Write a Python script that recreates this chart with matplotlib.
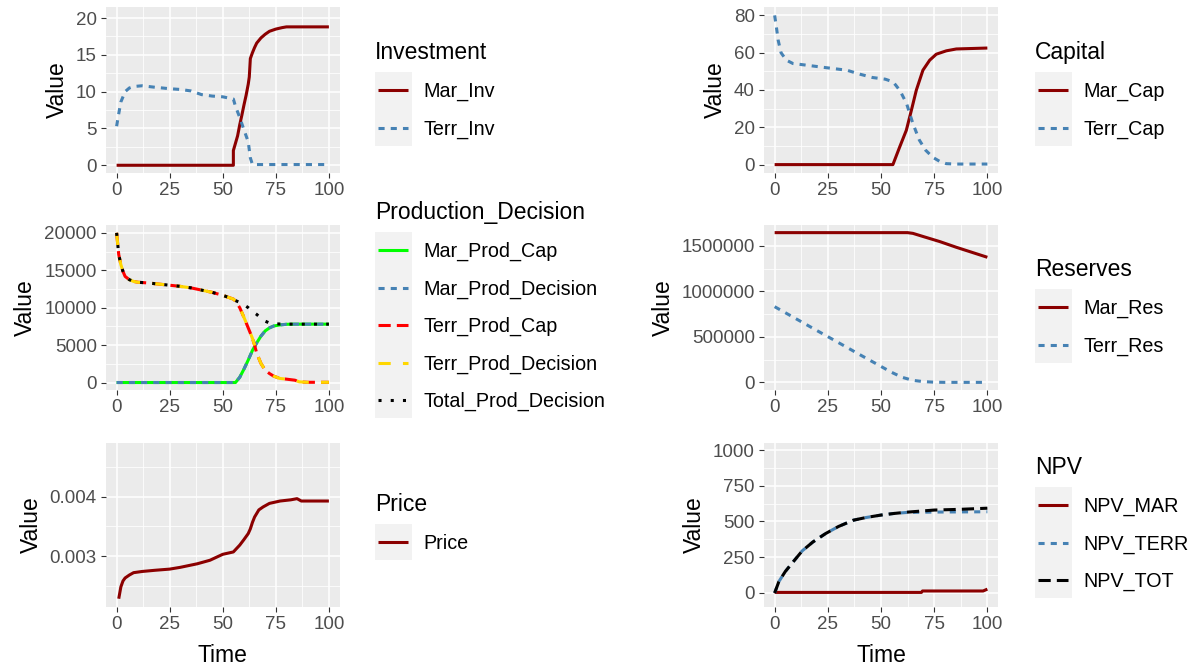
import matplotlib
matplotlib.use("Agg")
import matplotlib.pyplot as plt
from matplotlib.lines import Line2D
from matplotlib.patches import Rectangle

plt.rcParams['font.family'] = ['Liberation Sans', 'DejaVu Sans']

# ---------------- data ----------------
# Investment
inv_mar_t = [0, 55, 55, 56, 57, 58, 59, 60, 61, 62, 62.5, 63, 64, 65, 66, 68, 70, 72, 75, 78, 80, 100]
inv_mar = [0, 0, 2.0, 3.0, 4.0, 5.5, 6.8, 8.2, 9.5, 11.0, 12.0, 14.5, 15.3, 16.0, 16.6, 17.3, 17.8, 18.2, 18.5, 18.7, 18.8, 18.8]
inv_terr_t = [0, 1, 2, 4, 6, 8, 12, 18, 25, 30, 35, 40, 45, 50, 55, 56, 58, 60, 62, 63, 64, 100]
inv_terr = [5.3, 7.0, 8.6, 10.0, 10.5, 10.7, 10.8, 10.6, 10.4, 10.3, 10.1, 9.6, 9.4, 9.3, 9.0, 8.0, 6.5, 4.8, 3.2, 1.0, 0.1, 0.1]

# Production decision
prod_t = [0, 1, 2, 3, 4, 6, 8, 10, 15, 20, 25, 30, 35, 40, 45, 50, 55, 56, 58, 60, 62, 64, 65, 66,
          68, 70, 72, 74, 77, 80, 84, 86, 90, 100]
mar_prod_cap = [0, 0, 0, 0, 0, 0, 0, 0, 0, 0, 0, 0, 0, 0, 0, 0, 0, 0, 700, 1800, 3000, 4300, 4800, 5300,
                6200, 6900, 7300, 7550, 7700, 7780, 7800, 7800, 7800, 7800]
mar_prod_dec = mar_prod_cap
terr_prod_cap = [20000, 17100, 15750, 14850, 14180, 13740, 13510, 13400, 13300, 13150, 13000, 12850, 12650,
                 12350, 12050, 11650, 11150, 10900, 10000, 8700, 7300, 5900, 5000, 3900,
                 2550, 1650, 1200, 850, 540, 450, 310, 90, 30, 30]
terr_prod_dec = terr_prod_cap
total_prod_dec = [20000, 17100, 15750, 14850, 14180, 13740, 13510, 13400, 13300, 13150, 13000, 12850, 12650,
                  12350, 12050, 11650, 11150, 10950, 10700, 10400, 10000, 9500, 9300, 9100,
                  8600, 8200, 7950, 7850, 7820, 7800, 7800, 7800, 7800, 7800]

# Price
price_t = [1, 2, 3, 4, 6, 8, 12, 18, 25, 30, 38, 44, 50, 55, 58, 60, 62, 63, 64, 65, 66, 67, 69, 72, 77, 82, 85, 87, 100]
price = [0.00228, 0.00248, 0.00258, 0.00263, 0.00268, 0.00272, 0.00274, 0.00276, 0.00278, 0.00281, 0.00287,
         0.00293, 0.00303, 0.00307, 0.003185, 0.00328, 0.00338, 0.00346, 0.00357, 0.00366, 0.00372, 0.00378,
         0.00383, 0.00389, 0.00393, 0.00395, 0.00397, 0.00393, 0.00393]

# Capital
cap_mar_t = [0, 55.6, 58.8, 61.9, 64.3, 66.6, 69.7, 72.9, 76, 80.7, 85.4, 100]
cap_mar = [0, 0, 9.5, 18.4, 29.2, 39.9, 50.6, 56.0, 59.2, 61.0, 62.0, 62.5]
cap_terr_t = [0, 0.8, 1.6, 3, 5.5, 8.6, 15, 24, 34, 40, 46, 52, 55.6, 57, 59, 62, 65, 68, 71, 74.5, 77.5, 80.7, 85, 100]
cap_terr = [80, 74, 67, 60, 56, 54.2, 53.3, 52.0, 50.6, 48.5, 46.7, 45.8, 44.4, 42.5, 39.5, 32.8, 22.0, 13.2,
            7.7, 3.8, 1.8, 0.5, 0.3, 0.3]

# Reserves
res_mar_t = [0, 62.5, 65, 70, 77.6, 85.4, 100]
res_mar = [1646000, 1646000, 1638000, 1602000, 1548000, 1485000, 1375000]
res_terr_t = [0, 10, 20, 30, 40, 50, 55, 60, 65, 70, 75, 80, 100]
res_terr = [832000, 700000, 568000, 437000, 305000, 175000, 110000, 55000, 22000, 8000, 2000, 0, 0]

# NPV
npv_t = [0, 2, 5, 8, 13, 18, 24, 30, 37, 43, 50, 56, 62, 75, 87, 100]
npv_tot = [0, 80, 150, 205, 295, 357, 416, 465, 509, 528, 545, 556, 565, 580, 585, 593]
npv_terr = [0, 80, 150, 205, 295, 357, 416, 465, 509, 528, 545, 556, 563, 566, 567, 568]
npv_mar_t = [0, 69, 69.5, 98, 100]
npv_mar = [4, 4, 14, 14, 27]

# tick labels
x_ticks = [0, 25, 50, 75, 100]
x_tick_labels = ["0", "25", "50", "75", "100"]
inv_yticks = [0, 5, 10, 15, 20]
prod_yticks = [0, 5000, 10000, 15000, 20000]
price_yticks = [0.003, 0.004]
price_ytick_labels = ["0.003", "0.004"]
cap_yticks = [0, 20, 40, 60, 80]
res_yticks = [0, 500000, 1000000, 1500000]
npv_yticks = [0, 250, 500, 750, 1000]

# ---------------- styling ----------------
W, H = 1190, 669
fig = plt.figure(figsize=(W / 100, H / 100), dpi=100)

DARKRED = "#8B0000"
STEEL = "#4682B4"
LW = 2.2
TICK_FS = 13.5
AXT_FS = 16.5
LEG_T_FS = 16.5
LEG_L_FS = 14.2

LT = {
    "solid": dict(linestyle="-"),
    "22": dict(dashes=(2, 2)),
    "42": dict(dashes=(4, 2)),
    "44": dict(dashes=(4, 4)),
    "13": dict(dashes=(1, 3)),
}


def ax_at(x0, y0, x1, y1):
    return fig.add_axes([x0 / W, 1 - y1 / H, (x1 - x0) / W, (y1 - y0) / H])


def style(ax, ylim, yticks, yticklabels=None, xlabel=False):
    ax.set_facecolor("#EBEBEB")
    for s in ax.spines.values():
        s.set_visible(False)
    ax.set_xlim(-5, 105)
    ax.set_ylim(*ylim)
    ax.set_xticks(x_ticks)
    ax.set_xticklabels(x_tick_labels)
    ax.set_yticks(yticks)
    if yticklabels is None:
        yticklabels = [str(v) for v in yticks]
    ax.set_yticklabels(yticklabels)
    xm = [(x_ticks[i] + x_ticks[i + 1]) / 2 for i in range(len(x_ticks) - 1)]
    ym = [(yticks[i] + yticks[i + 1]) / 2 for i in range(len(yticks) - 1)]
    step = yticks[1] - yticks[0]
    ym = [yticks[0] - step / 2] + ym + [yticks[-1] + step / 2]
    ax.set_xticks(xm, minor=True)
    ax.set_yticks(ym, minor=True)
    ax.set_ylim(*ylim)
    ax.grid(which="major", color="white", lw=1.1)
    ax.grid(which="minor", color="white", lw=0.55)
    ax.set_axisbelow(True)
    ax.tick_params(which="major", length=3.6, width=0.8, color="#333333",
                   labelsize=TICK_FS, labelcolor="#4D4D4D", pad=3)
    ax.tick_params(which="minor", length=0)
    ax.set_ylabel("Value", fontsize=AXT_FS, labelpad=5)
    if xlabel:
        ax.set_xlabel("Time", fontsize=AXT_FS, labelpad=8)


def line(ax, x, y, color, lt):
    ax.plot(x, y, color=color, lw=LW, solid_capstyle="butt", dash_capstyle="butt", **LT[lt])


def legend(x0, first_y, title, entries, spacing=37.5):
    # x0: left edge of key box (px), first_y: centre of first entry (px)
    n = len(entries)
    fig.text(x0 / W, 1 - (first_y - 31) / H, title, fontsize=LEG_T_FS, ha="left", va="baseline")
    top = first_y - 18
    bot = first_y + (n - 1) * spacing + 18
    fig.patches.append(Rectangle((x0 / W, 1 - bot / H), 37 / W, (bot - top) / H,
                                 transform=fig.transFigure, facecolor="#F2F2F2", edgecolor="none"))
    for i, (lab, color, lt) in enumerate(entries):
        yc = first_y + i * spacing
        fig.lines.append(Line2D([(x0 + 3) / W, (x0 + 33) / W], [1 - yc / H] * 2, transform=fig.transFigure,
                                color=color, lw=LW, solid_capstyle="butt", dash_capstyle="butt", **LT[lt]))
        fig.text((x0 + 48) / W, 1 - (yc + 7) / H, lab, fontsize=LEG_L_FS, ha="left", va="baseline")


# rows (px): top/bottom
R1 = (7, 173)
R2 = (225, 390)
R3 = (443, 607)
LX = (106, 339.5)
RX = (764, 998)

# --- Investment ---
ax = ax_at(LX[0], R1[0], LX[1], R1[1])
line(ax, inv_mar_t, inv_mar, DARKRED, "solid")
line(ax, inv_terr_t, inv_terr, STEEL, "22")
style(ax, (-1.05, 21.5), inv_yticks)
legend(375, 90, "Investment", [("Mar_Inv", DARKRED, "solid"), ("Terr_Inv", STEEL, "22")])

# --- Production ---
ax = ax_at(LX[0], R2[0], LX[1], R2[1])
line(ax, prod_t, mar_prod_cap, "#00FF00", "solid")
line(ax, prod_t, mar_prod_dec, STEEL, "22")
line(ax, prod_t, terr_prod_cap, "#FF0000", "42")
line(ax, prod_t, terr_prod_dec, "#FFD700", "44")
line(ax, prod_t, total_prod_dec, "black", "13")
style(ax, (-1000, 21050), prod_yticks)
legend(375, 250, "Production_Decision", [("Mar_Prod_Cap", "#00FF00", "solid"),
                                         ("Mar_Prod_Decision", STEEL, "22"),
                                         ("Terr_Prod_Cap", "#FF0000", "42"),
                                         ("Terr_Prod_Decision", "#FFD700", "44"),
                                         ("Total_Prod_Decision", "black", "13")])

# --- Price ---
ax = ax_at(LX[0], R3[0], LX[1], R3[1])
line(ax, price_t, price, DARKRED, "solid")
style(ax, (0.00214, 0.00491), price_yticks, price_ytick_labels, xlabel=True)
legend(375, 542, "Price", [("Price", DARKRED, "solid")])

# --- Capital ---
ax = ax_at(RX[0], R1[0], RX[1], R1[1])
line(ax, cap_mar_t, cap_mar, DARKRED, "solid")
line(ax, cap_terr_t, cap_terr, STEEL, "22")
style(ax, (-4.5, 84.5), cap_yticks)
legend(1035, 90, "Capital", [("Mar_Cap", DARKRED, "solid"), ("Terr_Cap", STEEL, "22")])

# --- Reserves ---
ax = ax_at(RX[0], R2[0], RX[1], R2[1])
line(ax, res_mar_t, res_mar, DARKRED, "solid")
line(ax, res_terr_t, res_terr, STEEL, "22")
style(ax, (-84000, 1730000), res_yticks)
legend(1035, 307, "Reserves", [("Mar_Res", DARKRED, "solid"), ("Terr_Res", STEEL, "22")])

# --- NPV ---
ax = ax_at(RX[0], R3[0], RX[1], R3[1])
line(ax, npv_mar_t, npv_mar, DARKRED, "solid")
line(ax, npv_t, npv_terr, STEEL, "22")
line(ax, npv_t, npv_tot, "black", "42")
style(ax, (-98, 1049), npv_yticks, xlabel=True)
legend(1035, 505, "NPV", [("NPV_MAR", DARKRED, "solid"), ("NPV_TERR", STEEL, "22"), ("NPV_TOT", "black", "42")])

fig.savefig("out.png", dpi=100)
